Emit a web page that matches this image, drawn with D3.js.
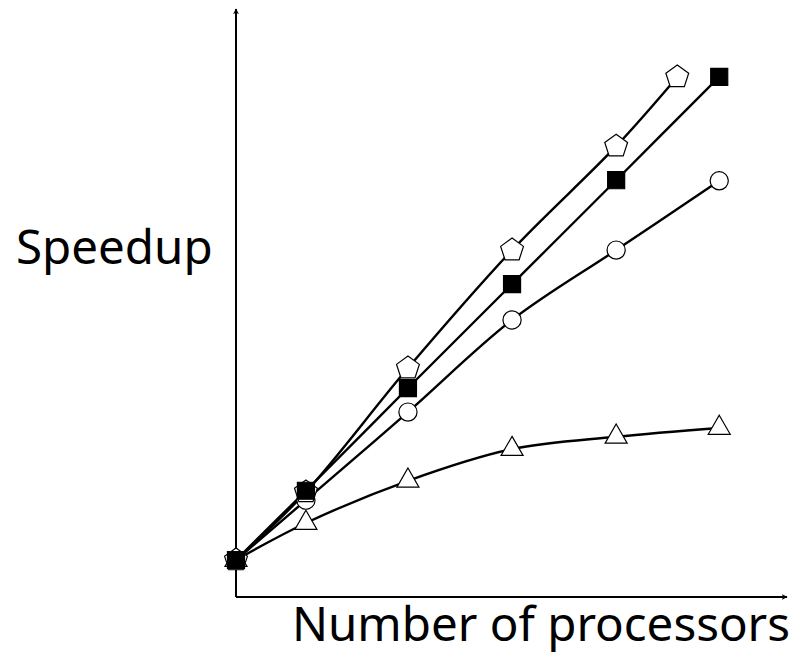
<!DOCTYPE html>
<html>
<head>
<meta charset="utf-8">
<style>
  body { margin: 0; background: #fff; }
  text { font-family: "Noto Sans", "DejaVu Sans", sans-serif; fill: #000; }
</style>
</head>
<body>
<svg width="803" height="654"></svg>
<script src="https://d3js.org/d3.v7.min.js"></script>
<script>
// processors (x positions) and speedup values
const procs = [0, 1.35, 3.32, 5.33, 7.34, 9.33];
const procsPentagon = [0, 1.35, 3.32, 5.33, 7.34, 8.52];
const pentagonVals = [6.3, 17.9, 39.0, 59.1, 76.8, 88.6];
const squareVals = [6.3, 18.1, 35.6, 53.3, 71.0, 88.6];
const circleVals = [6.3, 16.5, 31.5, 47.2, 59.1, 70.9];
const triangleVals = [6.3, 12.6, 19.8, 25.2, 27.3, 28.8];

// drawing order: the filled squares end up on top
const seriesList = [
    { name: "triangle", xs: procs, ys: triangleVals },
    { name: "circle", xs: procs, ys: circleVals },
    { name: "pentagon", xs: procsPentagon, ys: pentagonVals },
    { name: "square", xs: procs, ys: squareVals }
];

const svg = d3.select("svg");
const x0 = 236, y0 = 597;
const xscale = d3.scaleLinear().domain([0, 10.6]).range([x0, 785]);
const yscale = d3.scaleLinear().domain([0, 100]).range([y0, 10]);

// arrow marker
svg.append("defs").append("marker")
    .attr("id", "arrow")
    .attr("viewBox", "0 -5 10 10")
    .attr("refX", 9)
    .attr("refY", 0)
    .attr("markerWidth", 6)
    .attr("markerHeight", 6)
    .attr("markerUnits", "userSpaceOnUse")
    .attr("orient", "auto")
    .append("path")
    .attr("d", "M0,-5L10,0L0,5L3,0Z")
    .attr("fill", "#000");

// axes
svg.append("line")
    .attr("x1", x0).attr("y1", y0)
    .attr("x2", xscale(10.6) + 2).attr("y2", y0)
    .attr("stroke", "#000").attr("stroke-width", 2)
    .attr("marker-end", "url(#arrow)");
svg.append("line")
    .attr("x1", x0).attr("y1", y0)
    .attr("x2", x0).attr("y2", yscale(100) - 1)
    .attr("stroke", "#000").attr("stroke-width", 2)
    .attr("marker-end", "url(#arrow)");

svg.append("text")
    .attr("x", 16).attr("y", 264)
    .attr("font-size", 47.5)
    .text("Speedup");
svg.append("text")
    .attr("x", 790).attr("y", 641)
    .attr("text-anchor", "end")
    .attr("font-size", 47.5)
    .text("Number of processors");

const line = d3.line()
    .x(d => xscale(d[0]))
    .y(d => yscale(d[1]))
    .curve(d3.curveCatmullRom.alpha(0.5));

seriesList.forEach(s => {
    const pts = s.xs.map((x, i) => [x, s.ys[i]]);
    svg.append("path")
        .attr("d", line(pts))
        .attr("fill", "none")
        .attr("stroke", "#000")
        .attr("stroke-width", 2.4);
});

const symbols = {
    triangle: d3.symbol().type(d3.symbolTriangle).size(210),
    circle: d3.symbol().type(d3.symbolCircle).size(260),
    square: d3.symbol().type(d3.symbolSquare).size(290)
};

function pentagonPath(r) {
    const pts = d3.range(5).map(i => {
        const a = -Math.PI / 2 + i * 2 * Math.PI / 5;
        return [r * Math.cos(a), r * Math.sin(a)];
    });
    return "M" + pts.map(p => p.join(",")).join("L") + "Z";
}

seriesList.forEach(s => {
    s.xs.forEach((x, i) => {
        const d = s.name === "pentagon" ? pentagonPath(12) : symbols[s.name]();
        svg.append("path")
            .attr("transform", `translate(${xscale(x)},${yscale(s.ys[i])})`)
            .attr("d", d)
            .attr("fill", s.name === "square" ? "#000" : "#fff")
            .attr("stroke", "#000")
            .attr("stroke-width", 1.2);
    });
});
</script>
</body>
</html>
